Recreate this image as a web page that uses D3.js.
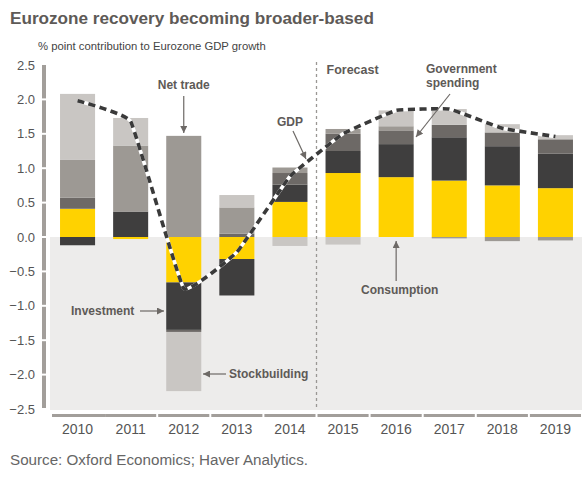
<!DOCTYPE html>
<html><head><meta charset="utf-8">
<script src="https://cdn.jsdelivr.net/npm/d3@7"></script>
<style>body{margin:0;background:#fff} svg{display:block}</style>
</head><body>
<svg id="chart" width="582" height="479"></svg>
<script>
// ---- data ----
const years = ["2010","2011","2012","2013","2014","2015","2016","2017","2018","2019"];
const consumption   = [0.41,-0.03,-0.66,-0.32,0.51,0.93,0.87,0.82,0.75,0.71];
const investment    = [-0.12,0.37,-0.69,-0.53,0.25,0.32,0.48,0.63,0.57,0.50];
const government    = [0.16,0.00,-0.03,0.05,0.17,0.25,0.20,0.18,0.20,0.21];
const netTrade      = [0.55,0.96,1.47,0.38,0.08,0.07,0.06,-0.02,-0.06,-0.05];
const stockbuilding = [0.96,0.40,-0.86,0.18,-0.13,-0.11,0.23,0.23,0.12,0.06];
const gdp           = [1.98,1.68,-0.75,-0.22,0.88,1.50,1.84,1.86,1.58,1.46];
const yTicks = [2.5,2.0,1.5,1.0,0.5,0.0,-0.5,-1.0,-1.5,-2.0,-2.5];
const seriesKeys = ["consumption","investment","government","netTrade","stockbuilding"];
const seriesColors = ["#ffd200","#3f3e3e","#6d6966","#9d9994","#c9c6c3"];

const svg = d3.select("#chart");
const W = 582, H = 479;
const x = d3.scaleBand().domain(years).range([51, 582]).paddingInner(0.34).paddingOuter(0.17);
const y = d3.scaleLinear().domain([-2.5, 2.5]).range([409, 65]);
const color = d3.scaleOrdinal().domain(seriesKeys).range(seriesColors);

const rows = years.map((yr, i) => ({
  year: yr, consumption: consumption[i], investment: investment[i], government: government[i],
  netTrade: netTrade[i], stockbuilding: stockbuilding[i]
}));
const stacked = d3.stack().keys(seriesKeys).offset(d3.stackOffsetDiverging)(rows);

function fit(sel, target) {
  const fs = parseFloat(sel.attr("font-size"));
  const len = sel.node().getComputedTextLength();
  if (len > 0) sel.attr("font-size", (fs * target / len).toFixed(2));
}

// title, subtitle
fit(svg.append("text").attr("x", 10).attr("y", 24).attr("font-family", "Liberation Sans, Arial, sans-serif")
  .attr("font-weight", "bold").attr("font-size", 21).attr("fill", "#5e5a57")
  .text("Eurozone recovery becoming broader-based"), 364);
fit(svg.append("text").attr("x", 38).attr("y", 50).attr("font-family", "Liberation Sans, Arial, sans-serif")
  .attr("font-size", 12).attr("fill", "#444")
  .text("% point contribution to Eurozone GDP growth"), 228);

// negative background
svg.append("rect").attr("x", 50).attr("y", y(0)).attr("width", W - 50).attr("height", y(-2.5) + 1 - y(0))
  .attr("fill", "#edeceb");

// bars
svg.append("g").selectAll("g").data(stacked).join("g").attr("fill", d => color(d.key))
  .selectAll("rect").data(d => d).join("rect")
  .attr("x", d => x(d.data.year)).attr("width", x.bandwidth())
  .attr("y", d => y(Math.max(d[0], d[1])))
  .attr("height", d => Math.abs(y(d[0]) - y(d[1])));

// forecast divider
const fx = x("2015") - x.step() * x.paddingInner() / 2;
svg.append("line").attr("x1", fx).attr("x2", fx).attr("y1", 62).attr("y2", 410)
  .attr("stroke", "#9a9794").attr("stroke-width", 1.3).attr("stroke-dasharray", "3,3");
svg.append("text").attr("x", fx + 10).attr("y", 74).attr("font-family", "Liberation Sans, Arial, sans-serif")
  .attr("font-weight", "bold").attr("font-size", 12.5).attr("fill", "#5e5a57").text("Forecast");

// GDP line
const line = d3.line().x((d, i) => x(years[i]) + x.bandwidth() / 2).y(d => y(d))
  .curve(d3.curveCardinal.tension(0.75));
svg.append("path").attr("d", line(gdp)).attr("fill", "none").attr("stroke", "#fff").attr("stroke-width", 3.6);
svg.append("path").attr("d", line(gdp)).attr("fill", "none").attr("stroke", "#3a3a3a").attr("stroke-width", 3.6)
  .attr("stroke-dasharray", "7,4.5");

// y axis (segmented bar)
const axG = "#a29e9a";
const ya = svg.append("g");
for (let i = 0; i < yTicks.length - 1; i++) {
  ya.append("rect").attr("x", 42).attr("width", 4)
    .attr("y", y(yTicks[i]) + (i === 0 ? 0 : 1)).attr("height", y(yTicks[i + 1]) - y(yTicks[i]) - (i === 0 ? 1 : 2))
    .attr("fill", axG);
}
ya.selectAll("text").data(yTicks).join("text")
  .attr("x", 35).attr("y", d => y(d)).attr("dy", "0.35em").attr("text-anchor", "end")
  .attr("font-family", "Liberation Sans, Arial, sans-serif").attr("font-size", 13).attr("fill", "#555")
  .text(d => d3.format(".1f")(d));

// x axis (segmented)
const xa = svg.append("g");
years.forEach((yr, i) => {
  const b0 = x(yr) - x.step() * x.paddingInner() / 2;
  xa.append("rect").attr("x", Math.max(50, b0 + 1)).attr("y", 414)
    .attr("width", (i === 0 ? b0 + x.step() - 1 - 50 : x.step() - 2)).attr("height", 3).attr("fill", axG);
});
xa.selectAll("text").data(years).join("text")
  .attr("x", d => x(d) + x.bandwidth() / 2).attr("y", 434).attr("text-anchor", "middle")
  .attr("font-family", "Liberation Sans, Arial, sans-serif").attr("font-size", 14).attr("fill", "#555")
  .text(d => d);

// source
fit(svg.append("text").attr("x", 10).attr("y", 465).attr("font-family", "Liberation Sans, Arial, sans-serif")
  .attr("font-size", 15).attr("fill", "#666").text("Source: Oxford Economics; Haver Analytics."), 298);

// annotations
const defs = svg.append("defs");
defs.append("marker").attr("id", "ah").attr("viewBox", "0 0 10 10").attr("refX", 10).attr("refY", 5)
  .attr("markerWidth", 8).attr("markerHeight", 7).attr("markerUnits", "userSpaceOnUse").attr("orient", "auto")
  .append("path").attr("d", "M0,0L10,5L0,10Z").attr("fill", "#6d6966");
const ann = svg.append("g").attr("font-family", "Liberation Sans, Arial, sans-serif")
  .attr("font-weight", "bold").attr("font-size", 12).attr("fill", "#5e5a57");
function arrow(x1, y1, x2, y2) {
  svg.append("line").attr("x1", x1).attr("y1", y1).attr("x2", x2).attr("y2", y2)
    .attr("stroke", "#6d6966").attr("stroke-width", 1.2).attr("marker-end", "url(#ah)");
}
const cx = yr => x(yr) + x.bandwidth() / 2;
ann.append("text").attr("x", cx("2012")).attr("y", 89).attr("text-anchor", "middle").text("Net trade");
arrow(cx("2012"), 96, cx("2012"), 133);
ann.append("text").attr("x", 290).attr("y", 126).attr("text-anchor", "middle").text("GDP");
arrow(293, 131, 306, 159);
ann.append("text").attr("x", 426).attr("y", 73).text("Government");
ann.append("text").attr("x", 426).attr("y", 87).text("spending");
arrow(450, 94, 416, 137);
ann.append("text").attr("x", 361).attr("y", 294).text("Consumption");
arrow(cx("2016"), 281, cx("2016"), 241);
ann.append("text").attr("x", 71).attr("y", 315).text("Investment");
arrow(140, 311, 164, 311);
ann.append("text").attr("x", 229).attr("y", 378).text("Stockbuilding");
arrow(226, 374, 203, 374);
</script>
</body></html>
